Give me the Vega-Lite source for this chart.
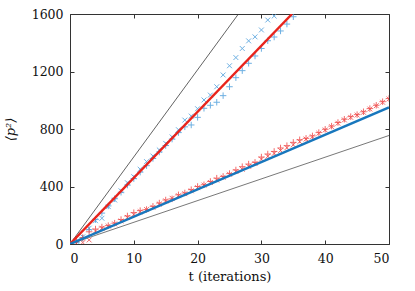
{
  "$schema": "https://vega.github.io/schema/vega-lite/v6.json",
  "autosize": "none",
  "width": 319,
  "height": 230,
  "padding": {"left": 70, "top": 14, "right": 26, "bottom": 47},
  "config": {
    "view": {"stroke": "#333", "strokeWidth": 1},
    "axis": {"grid": false, "domain": false, "tickSize": -4, "tickColor": "#333", "labelFont": "DejaVu Serif", "labelFontSize": 12.5, "labelColor": "#111", "titleFont": "DejaVu Serif", "titleFontSize": 13, "titleFontWeight": "normal", "titleColor": "#111", "format": "d"}
  },
  "datasets": {
    "pts": [
      {"t":0,"y":0,"s":"hi×"},{"t":1,"y":20,"s":"hi×"},{"t":2,"y":50,"s":"hi×"},{"t":3,"y":110,"s":"hi×"},{"t":4,"y":162,"s":"hi×"},{"t":5,"y":179,"s":"hi×"},{"t":6,"y":260,"s":"hi×"},{"t":7,"y":306,"s":"hi×"},{"t":8,"y":370,"s":"hi×"},{"t":9,"y":426,"s":"hi×"},{"t":10,"y":468,"s":"hi×"},{"t":11,"y":520,"s":"hi×"},{"t":12,"y":573,"s":"hi×"},{"t":13,"y":612,"s":"hi×"},{"t":14,"y":654,"s":"hi×"},{"t":15,"y":700,"s":"hi×"},{"t":16,"y":745,"s":"hi×"},{"t":17,"y":795,"s":"hi×"},{"t":18,"y":862,"s":"hi×"},{"t":19,"y":890,"s":"hi×"},{"t":20,"y":941,"s":"hi×"},{"t":21,"y":1002,"s":"hi×"},{"t":22,"y":1036,"s":"hi×"},{"t":23,"y":1094,"s":"hi×"},{"t":24,"y":1176,"s":"hi×"},{"t":25,"y":1240,"s":"hi×"},{"t":26,"y":1297,"s":"hi×"},{"t":27,"y":1360,"s":"hi×"},{"t":28,"y":1413,"s":"hi×"},{"t":29,"y":1441,"s":"hi×"},{"t":30,"y":1489,"s":"hi×"},{"t":31,"y":1558,"s":"hi×"},{"t":32,"y":1586,"s":"hi×"},
      {"t":0,"y":0,"s":"hi+"},{"t":1,"y":10,"s":"hi+"},{"t":2,"y":40,"s":"hi+"},{"t":3,"y":100,"s":"hi+"},{"t":4,"y":170,"s":"hi+"},{"t":5,"y":215,"s":"hi+"},{"t":6,"y":265,"s":"hi+"},{"t":7,"y":315,"s":"hi+"},{"t":8,"y":360,"s":"hi+"},{"t":9,"y":410,"s":"hi+"},{"t":10,"y":455,"s":"hi+"},{"t":11,"y":500,"s":"hi+"},{"t":12,"y":545,"s":"hi+"},{"t":13,"y":595,"s":"hi+"},{"t":14,"y":640,"s":"hi+"},{"t":15,"y":685,"s":"hi+"},{"t":16,"y":730,"s":"hi+"},{"t":17,"y":775,"s":"hi+"},{"t":18,"y":815,"s":"hi+"},{"t":19,"y":828,"s":"hi+"},{"t":20,"y":881,"s":"hi+"},{"t":21,"y":944,"s":"hi+"},{"t":22,"y":965,"s":"hi+"},{"t":23,"y":986,"s":"hi+"},{"t":24,"y":1032,"s":"hi+"},{"t":25,"y":1094,"s":"hi+"},{"t":26,"y":1157,"s":"hi+"},{"t":27,"y":1206,"s":"hi+"},{"t":28,"y":1257,"s":"hi+"},{"t":29,"y":1308,"s":"hi+"},{"t":30,"y":1360,"s":"hi+"},{"t":31,"y":1414,"s":"hi+"},{"t":32,"y":1440,"s":"hi+"},{"t":33,"y":1482,"s":"hi+"},{"t":34,"y":1530,"s":"hi+"},{"t":35,"y":1581,"s":"hi+"},
      {"t":0,"y":0,"s":"lo+"},{"t":1,"y":20,"s":"lo+"},{"t":2,"y":45,"s":"lo+"},{"t":3,"y":85,"s":"lo+"},{"t":4,"y":104,"s":"lo+"},{"t":5,"y":118,"s":"lo+"},{"t":6,"y":128,"s":"lo+"},{"t":7,"y":145,"s":"lo+"},{"t":8,"y":170,"s":"lo+"},{"t":9,"y":195,"s":"lo+"},{"t":10,"y":218,"s":"lo+"},{"t":11,"y":232,"s":"lo+"},{"t":12,"y":240,"s":"lo+"},{"t":13,"y":262,"s":"lo+"},{"t":14,"y":285,"s":"lo+"},{"t":15,"y":306,"s":"lo+"},{"t":16,"y":314,"s":"lo+"},{"t":17,"y":342,"s":"lo+"},{"t":18,"y":355,"s":"lo+"},{"t":19,"y":378,"s":"lo+"},{"t":20,"y":400,"s":"lo+"},{"t":21,"y":412,"s":"lo+"},{"t":22,"y":435,"s":"lo+"},{"t":23,"y":458,"s":"lo+"},{"t":24,"y":470,"s":"lo+"},{"t":25,"y":490,"s":"lo+"},{"t":26,"y":515,"s":"lo+"},{"t":27,"y":538,"s":"lo+"},{"t":28,"y":556,"s":"lo+"},{"t":29,"y":568,"s":"lo+"},{"t":30,"y":605,"s":"lo+"},{"t":31,"y":626,"s":"lo+"},{"t":32,"y":644,"s":"lo+"},{"t":33,"y":668,"s":"lo+"},{"t":34,"y":684,"s":"lo+"},{"t":35,"y":707,"s":"lo+"},{"t":36,"y":725,"s":"lo+"},{"t":37,"y":735,"s":"lo+"},{"t":38,"y":752,"s":"lo+"},{"t":39,"y":775,"s":"lo+"},{"t":40,"y":798,"s":"lo+"},{"t":41,"y":820,"s":"lo+"},{"t":42,"y":845,"s":"lo+"},{"t":43,"y":868,"s":"lo+"},{"t":44,"y":886,"s":"lo+"},{"t":45,"y":900,"s":"lo+"},{"t":46,"y":920,"s":"lo+"},{"t":47,"y":942,"s":"lo+"},{"t":48,"y":965,"s":"lo+"},{"t":49,"y":990,"s":"lo+"},{"t":50,"y":1012,"s":"lo+"},
      {"t":0,"y":0,"s":"lo×"},{"t":1,"y":5,"s":"lo×"},{"t":2,"y":10,"s":"lo×"},{"t":3,"y":28,"s":"lo×"},{"t":4,"y":90,"s":"lo×"},{"t":5,"y":110,"s":"lo×"},{"t":6,"y":125,"s":"lo×"},{"t":7,"y":140,"s":"lo×"},{"t":8,"y":160,"s":"lo×"},{"t":9,"y":185,"s":"lo×"},{"t":10,"y":205,"s":"lo×"},{"t":11,"y":225,"s":"lo×"},{"t":12,"y":240,"s":"lo×"},{"t":13,"y":255,"s":"lo×"},{"t":14,"y":278,"s":"lo×"},{"t":15,"y":300,"s":"lo×"},{"t":16,"y":318,"s":"lo×"},{"t":17,"y":336,"s":"lo×"},{"t":18,"y":350,"s":"lo×"},{"t":19,"y":370,"s":"lo×"},{"t":20,"y":392,"s":"lo×"},{"t":21,"y":410,"s":"lo×"},{"t":22,"y":428,"s":"lo×"},{"t":23,"y":445,"s":"lo×"},{"t":24,"y":464,"s":"lo×"},{"t":25,"y":485,"s":"lo×"},{"t":26,"y":505,"s":"lo×"},{"t":27,"y":520,"s":"lo×"},{"t":28,"y":540,"s":"lo×"},{"t":29,"y":560,"s":"lo×"},{"t":30,"y":590,"s":"lo×"},{"t":31,"y":610,"s":"lo×"},{"t":32,"y":630,"s":"lo×"},{"t":33,"y":650,"s":"lo×"},{"t":34,"y":670,"s":"lo×"},{"t":35,"y":690,"s":"lo×"},{"t":36,"y":712,"s":"lo×"},{"t":37,"y":730,"s":"lo×"},{"t":38,"y":746,"s":"lo×"},{"t":39,"y":770,"s":"lo×"},{"t":40,"y":793,"s":"lo×"},{"t":41,"y":816,"s":"lo×"},{"t":42,"y":840,"s":"lo×"},{"t":43,"y":863,"s":"lo×"},{"t":44,"y":881,"s":"lo×"},{"t":45,"y":897,"s":"lo×"},{"t":46,"y":916,"s":"lo×"},{"t":47,"y":939,"s":"lo×"},{"t":48,"y":962,"s":"lo×"},{"t":49,"y":986,"s":"lo×"},{"t":50,"y":1009,"s":"lo×"}
    ],
    "thin": [
      {"t":0,"y":0,"s":"steep"},{"t":26.4,"y":1600,"s":"steep"},
      {"t":0,"y":0,"s":"shallow"},{"t":50,"y":755,"s":"shallow"}
    ],
    "thick": [
      {"t":0,"y":0,"s":"fitHigh"},{"t":34.8,"y":1600,"s":"fitHigh"},
      {"t":0,"y":0,"s":"fitLow"},{"t":50,"y":950,"s":"fitLow"}
    ]
  },
  "layer": [
    {
      "data": {"name": "pts"},
      "mark": {"type": "point", "filled": false, "size": 42, "strokeWidth": 1, "opacity": 0.8, "clip": true},
      "encoding": {
        "x": {"field": "t", "type": "quantitative", "scale": {"domain": [0, 50], "nice": false, "zero": false}, "axis": {"orient": "bottom", "values": [0,10,20,30,40,50], "labelPadding": 12, "title": "t (iterations)", "titlePadding": 6}},
        "y": {"field": "y", "type": "quantitative", "scale": {"domain": [0, 1600], "nice": false}, "axis": {"orient": "left", "values": [0,400,800,1200,1600], "labelPadding": 11, "title": "⟨p²⟩", "titleFontStyle": "italic", "titlePadding": 14}},
        "color": {"field": "s", "type": "nominal", "legend": null, "scale": {"domain": ["hi×","hi+","lo+","lo×","steep","shallow","fitHigh","fitLow"], "range": ["#4a9ddc","#4a9ddc","#f04848","#f04848","#3a3a3a","#555555","#e8241c","#1877bd"]}},
        "shape": {"field": "s", "type": "nominal", "legend": null, "scale": {"domain": ["hi×","hi+","lo+","lo×"], "range": ["M-0.75,-0.75L0.75,0.75M-0.75,0.75L0.75,-0.75","M-1,0L1,0M0,-1L0,1","M-1,0L1,0M0,-1L0,1","M-0.75,-0.75L0.75,0.75M-0.75,0.75L0.75,-0.75"]}}
      }
    },
    {
      "data": {"name": "thin"},
      "mark": {"type": "line", "clip": true, "strokeWidth": 0.8},
      "encoding": {
        "x": {"field": "t", "type": "quantitative", "axis": {"orient": "top", "values": [0,10,20,30,40,50], "labels": false, "title": null}},
        "y": {"field": "y", "type": "quantitative", "axis": {"orient": "right", "values": [0,400,800,1200,1600], "labels": false, "title": null}},
        "detail": {"field": "s"},
        "color": {"field": "s", "type": "nominal", "legend": null}
      }
    },
    {
      "data": {"name": "thick"},
      "mark": {"type": "line", "clip": true, "strokeWidth": 2.4},
      "encoding": {
        "x": {"field": "t", "type": "quantitative", "axis": null},
        "y": {"field": "y", "type": "quantitative", "axis": null},
        "detail": {"field": "s"},
        "color": {"field": "s", "type": "nominal", "legend": null}
      }
    }
  ]
}
